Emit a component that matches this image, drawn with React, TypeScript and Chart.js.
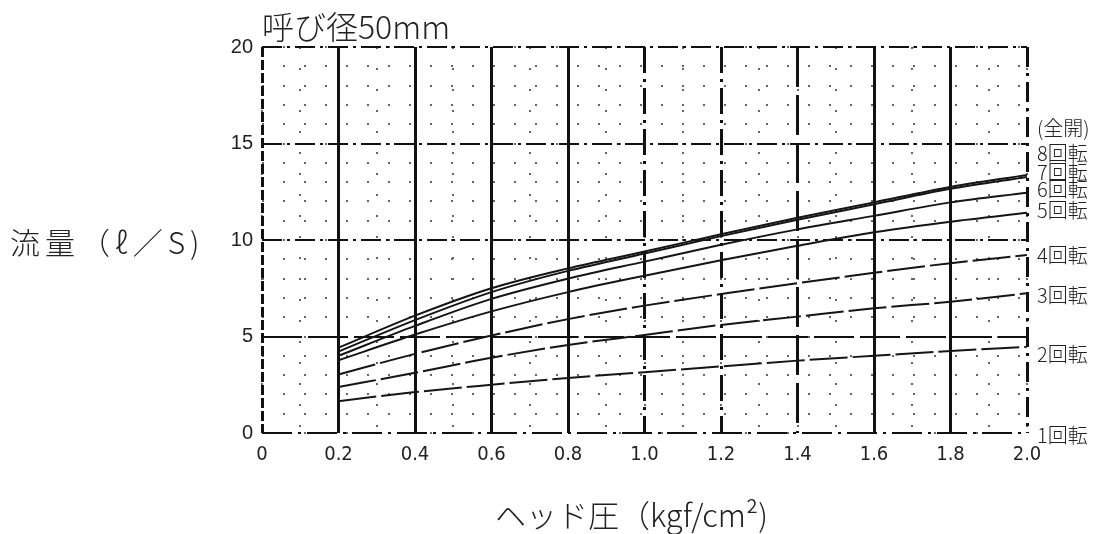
import React, { useEffect, useRef } from 'react';
import { Chart, registerables } from 'chart.js';

Chart.register(...registerables);

// ---- data ----
const PRESSURE = [0.2, 0.4, 0.6, 0.8, 1.0, 1.2, 1.4, 1.6, 1.8, 2.0];
const FLOW_8 = [4.42, 6.08, 7.5, 8.53, 9.4, 10.3, 11.15, 11.95, 12.75, 13.37];
const FLOW_7 = [4.22, 5.85, 7.3, 8.4, 9.3, 10.2, 11.05, 11.85, 12.65, 13.27];
const FLOW_6 = [4.0, 5.55, 6.95, 8.0, 8.88, 9.75, 10.55, 11.25, 11.95, 12.45];
const FLOW_5 = [3.77, 5.1, 6.3, 7.3, 8.15, 8.95, 9.7, 10.4, 10.95, 11.41];
const FLOW_4 = [3.03, 4.1, 5.05, 5.9, 6.6, 7.2, 7.76, 8.3, 8.8, 9.22];
const FLOW_3 = [2.38, 3.12, 3.9, 4.56, 5.08, 5.6, 6.03, 6.46, 6.8, 7.24];
const FLOW_2 = [1.65, 2.12, 2.5, 2.85, 3.15, 3.45, 3.75, 4.0, 4.25, 4.47];

const X_TICK_LABELS = ['0', '0.2', '0.4', '0.6', '0.8', '1.0', '1.2', '1.4', '1.6', '1.8', '2.0'];
const Y_TICK_VALUES = [0, 5, 10, 15, 20];

const TITLE = '呼び径50mm';
const Y_TITLE = '流量（ℓ／S)';
const X_TITLE = 'ヘッド圧（kgf/cm²)';

const TURN_LABELS = ['(全開)', '8回転', '7回転', '6回転', '5回転', '4回転', '3回転', '2回転', '1回転'];
const TURN_LABEL_VALUES = [15.8, 14.5, 13.5, 12.6, 11.55, 9.2, 7.15, 4.05, -0.1];

const CJK = "'Noto Sans CJK JP', 'Noto Sans', sans-serif";
const TEXT_COLOR = '#222';

function pts(ys: number[]) {
  return PRESSURE.map((x, i) => ({ x, y: ys[i] }));
}

function vDash(v: number): number[] {
  const r = Math.round(v * 10) / 10;
  if (r === 0) return [10, 3];
  if (r === 1.0 || r === 1.2) return [26, 6, 3, 6];
  if (r === 1.4) return [40, 8];
  if (r === 2.0) return [20, 6, 3, 6];
  return [];
}

function hDash(v: number): number[] {
  if (v === 0) return [30, 6, 3, 6];
  if (v === 5) return [40, 6];
  return [20, 5, 3, 5];
}

const textPlugin = {
  id: 'texts',
  afterDraw(chart: any) {
    const { ctx, chartArea, scales } = chart;
    const ys = scales.y;
    ctx.save();
    ctx.fillStyle = TEXT_COLOR;
    ctx.textBaseline = 'middle';
    ctx.textAlign = 'left';
    ctx.font = `300 32px ${CJK}`;
    ctx.fillText(TITLE, chartArea.left, 27);
    ctx.font = `300 30px ${CJK}`;
    (ctx as any).letterSpacing = '5px';
    ctx.fillText(Y_TITLE, 10, ys.getPixelForValue(10) + 3);
    (ctx as any).letterSpacing = '0px';
    ctx.font = `300 31px ${CJK}`;
    ctx.textAlign = 'center';
    ctx.fillText(X_TITLE, (chartArea.left + chartArea.right) / 2 - 13, 515);
    ctx.font = `300 20px ${CJK}`;
    ctx.textAlign = 'left';
    TURN_LABELS.forEach((t, i) => {
      ctx.fillText(t, chartArea.right + 10, ys.getPixelForValue(TURN_LABEL_VALUES[i]));
    });
    ctx.restore();
  },
};

export default function App() {
  const ref = useRef<HTMLCanvasElement | null>(null);

  useEffect(() => {
    if (!ref.current) return;
    const line = (data: number[], dash: number[] = []) => ({
      data: pts(data),
      borderColor: '#151515',
      borderWidth: 2,
      borderDash: dash,
      pointRadius: 0,
      fill: false,
      cubicInterpolationMode: 'monotone' as const,
    });
    const chart = new Chart(ref.current, {
      type: 'line',
      data: {
        datasets: [
          line(FLOW_8),
          line(FLOW_7),
          line(FLOW_6),
          line(FLOW_5),
          line(FLOW_4, [38, 5]),
          line(FLOW_3, [38, 5]),
          line(FLOW_2, [38, 5]),
        ],
      },
      options: {
        animation: false,
        responsive: false,
        layout: { padding: { left: 0, right: 84, top: 47, bottom: 0 } },
        plugins: { legend: { display: false }, tooltip: { enabled: false } },
        scales: {
          xMinor: {
            type: 'linear',
            position: 'bottom',
            min: 0,
            max: 2,
            ticks: { display: false, stepSize: 0.1 },
            grid: { color: '#666', lineWidth: 2, drawTicks: false },
            border: { display: false, dash: [2, 19] },
            afterFit: (s: any) => { s.height = 0; },
          },
          yMinor: {
            type: 'linear',
            position: 'left',
            min: 0,
            max: 20,
            ticks: { display: false, stepSize: 1 },
            grid: { color: '#666', lineWidth: 2, drawTicks: false },
            border: { display: false, dash: [2, 19] },
            afterFit: (s: any) => { s.width = 0; },
          },
          x: {
            type: 'linear',
            position: 'bottom',
            min: 0,
            max: 2,
            ticks: {
              stepSize: 0.2,
              padding: 10,
              color: TEXT_COLOR,
              font: { family: "'Liberation Sans Narrow', 'DejaVu Sans Condensed', sans-serif", size: 20 },
              callback: (_v: any, i: number) => X_TICK_LABELS[i],
            },
            grid: { color: '#111', lineWidth: 3, drawTicks: false },
            border: { display: false, dash: (c: any) => (c.tick ? vDash(c.tick.value) : []) },
            afterFit: (s: any) => { s.height = 101; },
          },
          y: {
            type: 'linear',
            position: 'left',
            min: 0,
            max: 20,
            afterBuildTicks: (s: any) => { s.ticks = Y_TICK_VALUES.map((v) => ({ value: v })); },
            ticks: {
              padding: 9,
              color: TEXT_COLOR,
              font: { family: "'Liberation Sans', Arial, sans-serif", size: 20 },
            },
            grid: { color: '#111', lineWidth: 2, drawTicks: false },
            border: { display: false, dash: (c: any) => (c.tick ? hDash(c.tick.value) : []) },
            afterFit: (s: any) => { s.width = 262; },
          },
        },
      },
      plugins: [textPlugin],
    } as any);
    return () => chart.destroy();
  }, []);

  return (
    <div style={{ position: 'fixed', left: 0, top: 0, width: 1111, height: 534, background: '#fff' }}>
      <canvas ref={ref} width={1111} height={534} style={{ display: 'block' }} />
    </div>
  );
}
